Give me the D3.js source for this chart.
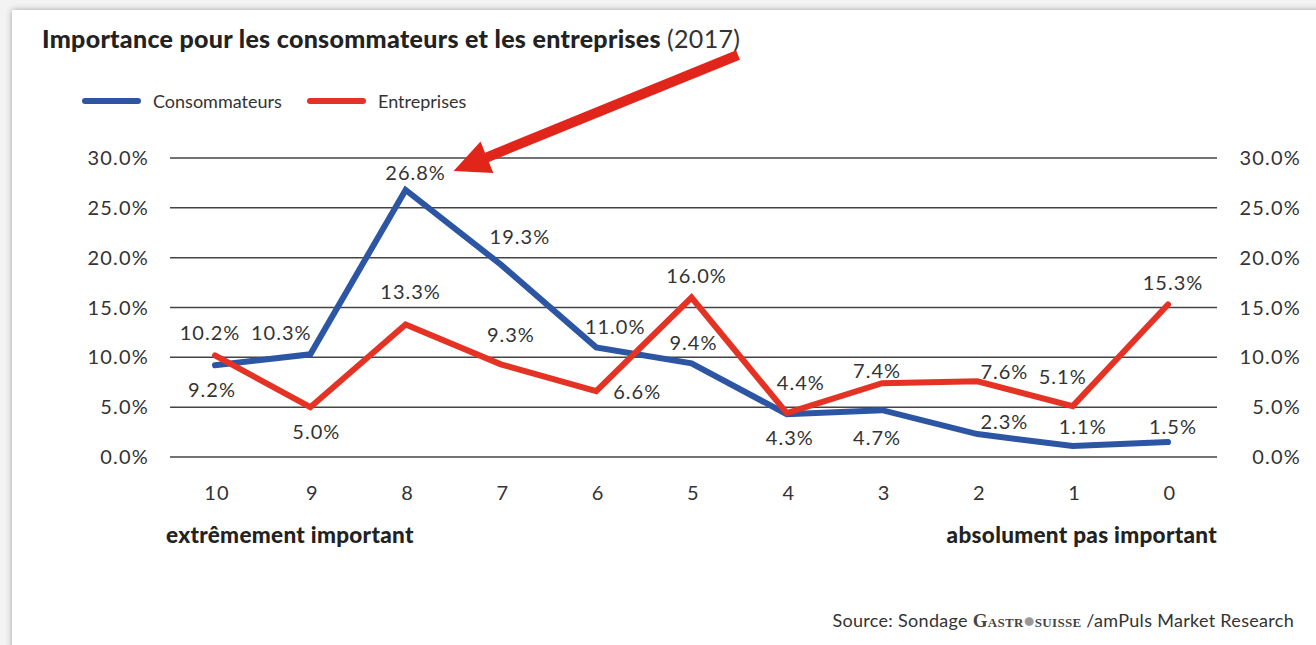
<!DOCTYPE html>
<html lang="fr">
<head>
<meta charset="UTF-8">
<title>Importance pour les consommateurs et les entreprises (2017)</title>
<script src="https://d3js.org/d3.v7.min.js"></script>
<style>
  html, body { margin: 0; padding: 0; background: #f3f3f3; }
  svg { display: block; font-family: Lato, "Open Sans", sans-serif; }
  .tick-label { font-size: 20px; fill: #333; letter-spacing: 1.2px; }
  .val { font-size: 20px; fill: #333; letter-spacing: 1px; }
</style>
</head>
<body>
<svg width="1316" height="645"></svg>
<script>
const categories = ["10", "9", "8", "7", "6", "5", "4", "3", "2", "1", "0"];
const consommateurs = [9.2, 10.3, 26.8, 19.3, 11.0, 9.4, 4.3, 4.7, 2.3, 1.1, 1.5];
const entreprises = [10.2, 5.0, 13.3, 9.3, 6.6, 16.0, 4.4, 7.4, 7.6, 5.1, 15.3];
const yTicks = [0, 5, 10, 15, 20, 25, 30];

// label offsets relative to each point (placement only)
const blueOffsets = [[-3, 25], [-29, -21], [10, -17], [19, -28], [19, -20], [2, -20], [3, 24], [-5, 28], [27, -12], [10, -19], [5, -15]];
const redOffsets = [[-5, -22], [6, 25], [5, -32], [10, -29], [41, 1], [5, -22], [14, -30], [-5, -12], [27, -9], [-10, -29], [5, -22]];

const svg = d3.select("svg");
const W = 1316, H = 645;

// card with soft edge
const defs = svg.append("defs");
const f = defs.append("filter").attr("id", "sh").attr("x", "-5%").attr("y", "-5%").attr("width", "110%").attr("height", "110%");
f.append("feGaussianBlur").attr("in", "SourceAlpha").attr("stdDeviation", 3);
f.append("feComponentTransfer").append("feFuncA").attr("type", "linear").attr("slope", 0.35);
const fm = f.append("feMerge");
fm.append("feMergeNode");
fm.append("feMergeNode").attr("in", "SourceGraphic");

svg.append("rect").attr("x", 12).attr("y", 10).attr("width", W).attr("height", H)
   .attr("fill", "#fff").attr("filter", "url(#sh)");

const x = d3.scalePoint().domain(categories).range([215, 1168]);
const y = d3.scaleLinear().domain([0, 30]).range([457, 158]);
const gridL = 170, gridR = 1217;

// title
const title = svg.append("text").attr("x", 42).attr("y", 48)
   .attr("font-size", 25).attr("fill", "#222").attr("letter-spacing", 0.3);
title.append("tspan").attr("font-weight", 900).text("Importance pour les consommateurs et les entreprises ");
title.append("tspan").attr("font-weight", 400).attr("fill", "#333").text("(2017)");

// legend
const legend = [["Consommateurs", "#2c56a3", 83], ["Entreprises", "#e43324", 308]];
legend.forEach(([name, col, lx]) => {
  svg.append("line").attr("x1", lx + 2).attr("x2", lx + 55).attr("y1", 101).attr("y2", 101)
     .attr("stroke", col).attr("stroke-width", 6).attr("stroke-linecap", "round");
  svg.append("text").attr("x", lx + 70).attr("y", 108).attr("font-size", 18)
     .attr("fill", "#333").text(name);
});

// grid + y axes
const g = svg.append("g");
g.selectAll(".grid").data(yTicks).join("line")
  .attr("x1", gridL).attr("x2", gridR)
  .attr("y1", d => y(d)).attr("y2", d => y(d))
  .attr("stroke", "#444").attr("stroke-width", 1.5);

g.selectAll(".yl").data(yTicks).join("text")
  .attr("class", "tick-label").attr("x", 149).attr("y", d => y(d) + 7)
  .attr("text-anchor", "end").text(d => d.toFixed(1) + "%");
g.selectAll(".yr").data(yTicks).join("text")
  .attr("class", "tick-label").attr("x", 1301).attr("y", d => y(d) + 7)
  .attr("text-anchor", "end").text(d => d.toFixed(1) + "%");

// x tick labels
g.selectAll(".xl").data(categories).join("text")
  .attr("class", "tick-label").attr("x", d => x(d) + 2).attr("y", 500)
  .attr("text-anchor", "middle").text(d => d);

svg.append("text").attr("x", 166).attr("y", 543).attr("font-size", 22.5)
   .attr("font-weight", 900).attr("fill", "#222").attr("letter-spacing", 0.3)
   .text("extrêmement important");
svg.append("text").attr("x", 1217).attr("y", 543).attr("font-size", 22.5)
   .attr("font-weight", 900).attr("fill", "#222").attr("letter-spacing", 0.3)
   .attr("text-anchor", "end").text("absolument pas important");

// lines
const line = d3.line().x((d, i) => x(categories[i])).y(d => y(d));
const series = [[entreprises, "#e43324", redOffsets], [consommateurs, "#2c56a3", blueOffsets]];
// blue drawn first, red on top as in reference
[series[1], series[0]].forEach(([vals, col]) => {
  svg.append("path").datum(vals).attr("d", line).attr("fill", "none")
     .attr("stroke", col).attr("stroke-width", 6)
     .attr("stroke-linejoin", "miter").attr("stroke-linecap", "round");
});

// value labels
series.forEach(([vals, col, offs]) => {
  svg.append("g").selectAll("text").data(vals).join("text")
    .attr("class", "val")
    .attr("x", (d, i) => x(categories[i]) + offs[i][0])
    .attr("y", (d, i) => y(d) + offs[i][1] + 7)
    .attr("text-anchor", "middle")
    .text(d => d.toFixed(1) + "%");
});

// arrow pointing to the peak label
const tipX = x("8") + 48, tipY = y(26.8) - 19;
const sx = 738, sy = 55;
const ang = Math.atan2(tipY - sy, tipX - sx);
const headLen = 36, headW = 17, shaftW = 5;
const ux = Math.cos(ang), uy = Math.sin(ang), px = -uy, py = ux;
const bx = tipX - ux * headLen, by = tipY - uy * headLen;
const pts = [
  [sx + px * shaftW, sy + py * shaftW],
  [bx + px * shaftW, by + py * shaftW],
  [bx + px * headW, by + py * headW],
  [tipX, tipY],
  [bx - px * headW, by - py * headW],
  [bx - px * shaftW, by - py * shaftW],
  [sx - px * shaftW, sy - py * shaftW]
];
svg.append("polygon").attr("points", pts.map(p => p.join(",")).join(" ")).attr("fill", "#e2251b");

// source
const src = svg.append("text").attr("x", 1294).attr("y", 627).attr("font-size", 18)
   .attr("fill", "#333").attr("text-anchor", "end").attr("letter-spacing", 0.3);
src.append("tspan").text("Source: Sondage ");
src.append("tspan").attr("font-family", "Liberation Serif, serif").attr("font-weight", 700)
   .attr("font-size", 19).attr("font-variant", "small-caps").attr("fill", "#444").text("Gastr");
src.append("tspan").attr("fill", "#999").text("●");
src.append("tspan").attr("font-family", "Liberation Serif, serif").attr("font-weight", 700)
   .attr("font-size", 19).attr("font-variant", "small-caps").attr("fill", "#444").text("suisse");
src.append("tspan").text(" /amPuls Market Research");
</script>
</body>
</html>
